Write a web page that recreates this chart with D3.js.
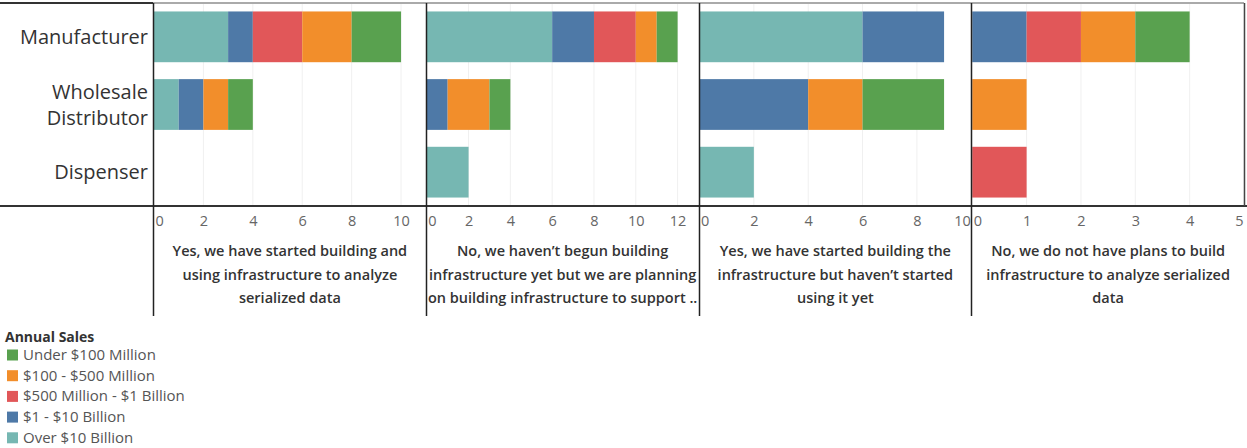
<!DOCTYPE html>
<html>
<head>
<meta charset="utf-8">
<script src="https://cdn.jsdelivr.net/npm/d3@7"></script>
<style>
  html, body { margin: 0; padding: 0; background: #fff; }
  svg { display: block; font-family: "Open Sans", "Noto Sans", sans-serif; }
</style>
</head>
<body>
<svg id="chart" width="1247" height="448"></svg>
<script>
// ---------- data ----------
const questions = [
  ["Yes, we have started building and", "using infrastructure to analyze", "serialized data"],
  ["No, we haven\u2019t begun building", "infrastructure yet but we are planning", "on building infrastructure to support .."],
  ["Yes, we have started building the", "infrastructure but haven\u2019t started", "using it yet"],
  ["No, we do not have plans to build", "infrastructure to analyze serialized", "data"]
];
const roles = ["Manufacturer", "Wholesale Distributor", "Dispenser"];
const roleLines = [["Manufacturer"], ["Wholesale", "Distributor"], ["Dispenser"]];
// stacking order, left to right
const salesBands = ["Over $10 Billion", "$1 - $10 Billion", "$500 Million - $1 Billion", "$100 - $500 Million", "Under $100 Million"];
const bandColors = ["#76b7b2", "#4e79a7", "#e15759", "#f28e2b", "#59a14f"];
const legendOrder = ["Under $100 Million", "$100 - $500 Million", "$500 Million - $1 Billion", "$1 - $10 Billion", "Over $10 Billion"];
// values[question][role]
const over10B   = [[3, 1, 0], [6, 0, 2], [6, 0, 2], [0, 0, 0]];
const b1to10B   = [[1, 1, 0], [2, 1, 0], [3, 4, 0], [1, 0, 0]];
const m500to1B  = [[2, 0, 0], [2, 0, 0], [0, 0, 0], [1, 0, 1]];
const m100to500 = [[2, 1, 0], [1, 2, 0], [0, 2, 0], [1, 1, 0]];
const under100M = [[2, 1, 0], [1, 1, 0], [0, 3, 0], [1, 0, 0]];
const bandValues = [over10B, b1to10B, m500to1B, m100to500, under100M];
const axisMax = [11, 13, 10, 5];
const axisTicks = [[0, 2, 4, 6, 8, 10], [0, 2, 4, 6, 8, 10, 12], [0, 2, 4, 6, 8, 10], [0, 1, 2, 3, 4, 5]];

// ---------- layout ----------
const svg = d3.select("#chart");
const plotLeft = 153, plotRight = 1244, plotTop = 3, axisY = 206, headerBottom = 316;
const panelW = (plotRight - plotLeft) / questions.length;
const color = d3.scaleOrdinal().domain(salesBands).range(bandColors);
const y = d3.scaleBand().domain(roles).range([plotTop, axisY]).paddingInner(0.25).paddingOuter(0.125);

questions.forEach((q, qi) => {
  const x0 = plotLeft + qi * panelW + 1;
  const x1 = plotLeft + (qi + 1) * panelW;
  const x = d3.scaleLinear().domain([0, axisMax[qi]]).range([x0, x1]);
  const g = svg.append("g");

  // gridlines
  g.selectAll("line.grid").data(axisTicks[qi].filter(t => t > 0)).join("line")
    .attr("x1", d => x(d)).attr("x2", d => x(d))
    .attr("y1", plotTop).attr("y2", axisY)
    .attr("stroke", "#f0f0f0").attr("stroke-width", 1);

  // stacked bars
  roles.forEach((r, ri) => {
    let acc = 0;
    salesBands.forEach((b, bi) => {
      const v = bandValues[bi][qi][ri];
      if (v > 0) {
        g.append("rect")
          .attr("x", x(acc)).attr("width", x(acc + v) - x(acc))
          .attr("y", y(r)).attr("height", y.bandwidth())
          .attr("fill", color(b));
      }
      acc += v;
    });
  });

  // axis
  const axis = d3.axisBottom(x).tickValues(axisTicks[qi]).tickFormat(d3.format("d"))
    .tickSize(0).tickPadding(10);
  const ag = g.append("g").attr("transform", `translate(0,${axisY})`).call(axis);
  ag.select(".domain").remove();
  ag.selectAll("text").attr("font-size", 14.5).attr("fill", "#666")
    .attr("font-family", "'Open Sans', sans-serif")
    .attr("text-anchor", d => d === 0 ? "start" : (x(d) >= x1 - 2 ? "end" : "middle"))
    .attr("dx", d => d === 0 ? 1 : (x(d) >= x1 - 2 ? -1 : 0));

  // header text
  const cx = (x0 + x1) / 2;
  const t = g.append("text").attr("text-anchor", "middle")
    .attr("font-size", 14.5).attr("font-weight", 600).attr("fill", "#333");
  q.forEach((line, li) => {
    t.append("tspan").attr("x", cx).attr("y", 256 + li * 23.5).text(line);
  });
});

// frame lines
svg.append("line").attr("x1", plotLeft).attr("x2", plotRight).attr("y1", plotTop).attr("y2", plotTop)
  .attr("stroke", "#aaa").attr("stroke-width", 2);
svg.append("line").attr("x1", 0).attr("x2", plotLeft).attr("y1", plotTop).attr("y2", plotTop)
  .attr("stroke", "#333").attr("stroke-width", 2);
svg.append("line").attr("x1", 0).attr("x2", 1247).attr("y1", axisY).attr("y2", axisY)
  .attr("stroke", "#333").attr("stroke-width", 2);
d3.range(questions.length).forEach(i => {
  const xx = Math.round(plotLeft + i * panelW) + 0.5;
  svg.append("line").attr("x1", xx).attr("x2", xx).attr("y1", plotTop).attr("y2", headerBottom)
    .attr("stroke", "#222").attr("stroke-width", 1.5);
});
svg.append("line").attr("x1", plotRight + 0.5).attr("x2", plotRight + 0.5).attr("y1", plotTop).attr("y2", axisY)
  .attr("stroke", "#444").attr("stroke-width", 1.5);

// role labels
roles.forEach((r, ri) => {
  const lines = roleLines[ri];
  const cy = y(r) + y.bandwidth() / 2;
  const t = svg.append("text").attr("text-anchor", "end").attr("font-size", 20).attr("fill", "#333");
  lines.forEach((l, li) => {
    t.append("tspan").attr("x", 148)
      .attr("y", cy + (li - (lines.length - 1) / 2) * 26 + 7).text(l);
  });
});

// legend
const lg = svg.append("g").attr("transform", "translate(5,0)");
lg.append("text").attr("x", 0).attr("y", 342).attr("font-size", 14).attr("font-weight", 700)
  .attr("fill", "#333").text("Annual Sales");
legendOrder.forEach((b, i) => {
  const yy = 355 + i * 20.7;
  lg.append("rect").attr("x", 2).attr("y", yy - 5.5).attr("width", 11).attr("height", 11).attr("fill", color(b));
  lg.append("text").attr("x", 18).attr("y", yy + 5).attr("font-size", 15).attr("fill", "#555").text(b);
});
</script>
</body>
</html>
